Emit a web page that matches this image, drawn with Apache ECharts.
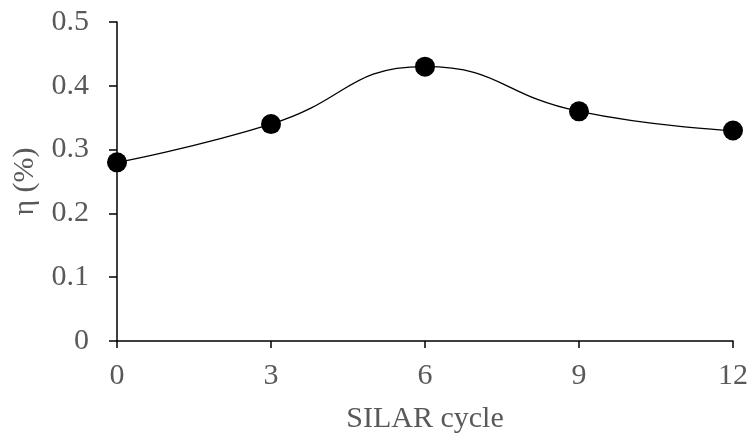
<!DOCTYPE html>
<html>
<head>
<meta charset="utf-8">
<script src="https://cdn.jsdelivr.net/npm/echarts@6/dist/echarts.min.js"></script>
<style>
  html, body { margin: 0; padding: 0; background: #fff; }
  #chart { width: 753px; height: 439px; }
</style>
</head>
<body>
<div id="chart"></div>
<script>
    const cycles = [0, 3, 6, 9, 12]
    const eta = [0.28, 0.34, 0.43, 0.36, 0.33]

    const font = '"Liberation Serif", "Times New Roman", serif'
    const textGray = '#595959'
    const fontSize = 30

    const chart = echarts.init(document.getElementById('chart'))

    let points = []
    for (let i = 0; i < cycles.length; i++) {
        points.push([cycles[i], eta[i]])
    }

    const option = {
        backgroundColor: '#fff',
        animation: false,
        grid: { left: 117, right: 20, top: 22, bottom: 98 },
        xAxis: {
            type: 'value',
            min: 0,
            max: 12,
            interval: 3,
            name: 'SILAR cycle',
            nameLocation: 'middle',
            nameGap: 63,
            nameTextStyle: { color: textGray, fontFamily: font, fontSize: fontSize },
            axisLine: { show: true, lineStyle: { color: '#000', width: 1.5 } },
            axisTick: { show: true, length: 7, lineStyle: { color: '#000', width: 1.5 } },
            axisLabel: { color: textGray, fontFamily: font, fontSize: fontSize, margin: 20 },
            splitLine: { show: false }
        },
        yAxis: {
            type: 'value',
            min: 0,
            max: 0.5,
            interval: 0.1,
            name: 'η (%)',
            nameLocation: 'middle',
            nameGap: 64,
            nameTextStyle: { color: textGray, fontFamily: font, fontSize: fontSize },
            axisLine: { show: true, lineStyle: { color: '#000', width: 1.5 } },
            axisTick: { show: true, length: 8, lineStyle: { color: '#000', width: 1.5 } },
            axisLabel: { color: textGray, fontFamily: font, fontSize: fontSize, margin: 28 },
            splitLine: { show: false }
        },
        series: [
            {
                type: 'line',
                data: points,
                smooth: 0.5,
                symbol: 'circle',
                symbolSize: 20,
                itemStyle: { color: '#000' },
                lineStyle: { color: '#000', width: 1.3 }
            }
        ]
    }

    chart.setOption(option)
</script>
</body>
</html>
